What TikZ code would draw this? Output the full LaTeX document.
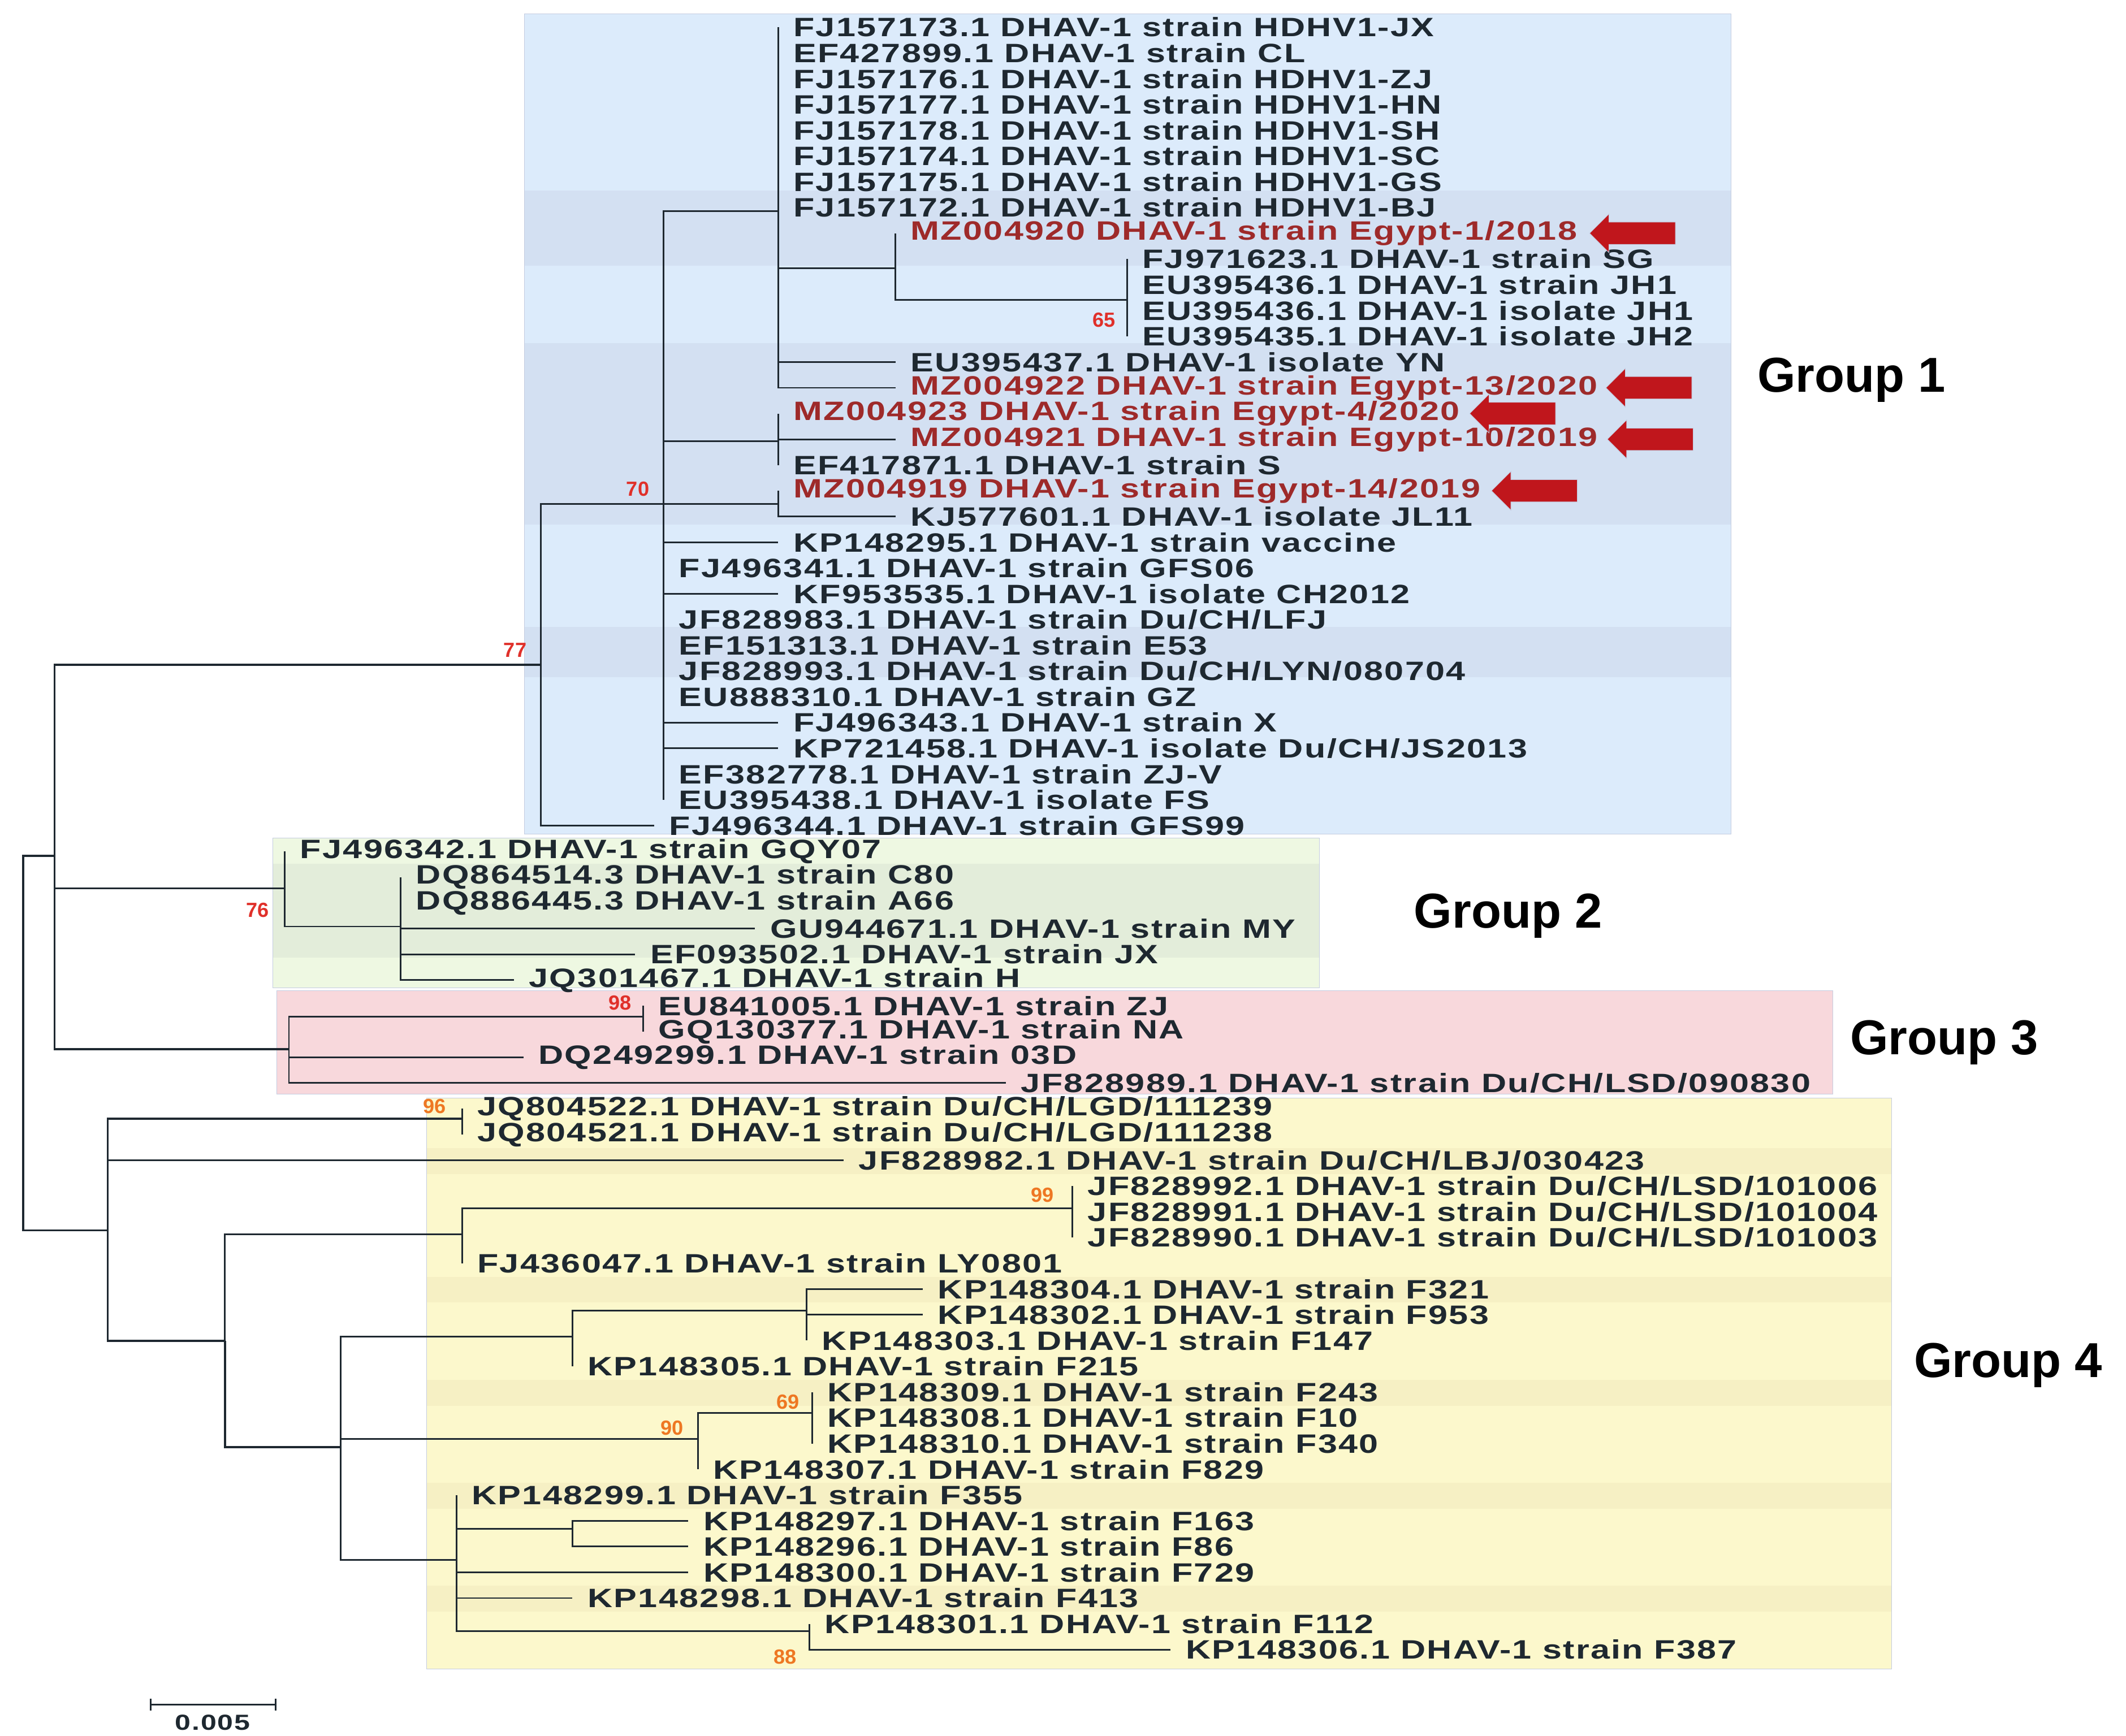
\documentclass[tikz,border=0pt]{standalone}
\usepackage{fontspec}
\setmainfont{Liberation Sans}
\usetikzlibrary{shapes.arrows}
\definecolor{inkdark}{HTML}{1E2830}
\definecolor{egyptred}{HTML}{9E2A2A}
\definecolor{bootred}{HTML}{E0302A}
\definecolor{bootorange}{HTML}{EE7722}
\definecolor{blueband}{HTML}{DCEBFB}
\definecolor{bluedark}{HTML}{D3E0F2}
\definecolor{greenband}{HTML}{EEF8E2}
\definecolor{greendark}{HTML}{E3EDDA}
\definecolor{pinkband}{HTML}{F8D8DC}
\definecolor{yellowband}{HTML}{FCF8CC}
\definecolor{yellowdark}{HTML}{F6F0C4}
\definecolor{boxedge}{HTML}{C4CCE0}
\definecolor{arrowfill}{HTML}{C0161C}
\newfontfamily\treefont{Liberation Sans}[FakeStretch=1.3, LetterSpace=5]
\tikzset{
 leaf/.style={anchor=west, inner xsep=11pt, inner ysep=0pt, text=inkdark,
   font=\treefont\fontsize{19.5}{20}\selectfont\bfseries},
 egypt/.style={leaf, text=egyptred},
 branch/.style={draw=inkdark, line width=1.2pt},
 boot/.style={font=\fontsize{15}{15}\selectfont\bfseries, text=bootred, inner sep=0pt},
 bootg/.style={boot, text=bootorange},
 grouplabel/.style={font=\fontsize{36}{38}\selectfont\bfseries, text=black, anchor=west},
 flag/.style={single arrow, shape border rotate=180, fill=arrowfill, draw=boxedge,
   minimum height=63pt, inner xsep=0pt, inner ysep=8pt, single arrow head extend=6pt},
}
\newcommand{\ry}[1]{20+18.9*#1}
\begin{document}
\begin{tikzpicture}[x=1pt,y=-1pt]
 \useasboundingbox [fill=white] (0,0) rectangle (1560,1274);
 % group boxes
 \fill [blueband] (385,10) rectangle (1270,612);
 \fill [bluedark] (385,140) rectangle (1270,195);
 \fill [bluedark] (385,252) rectangle (1270,385);
 \fill [bluedark] (385,460) rectangle (1270,497);
 \draw [boxedge] (385,10) rectangle (1270,612);
 \fill [greenband] (200,615) rectangle (968,725);
 \fill [greendark] (200,634) rectangle (968,703);
 \draw [boxedge] (200,615) rectangle (968,725);
 \fill [pinkband] (203,727) rectangle (1345,803);
 \draw [boxedge] (203,727) rectangle (1345,803);
 \fill [yellowband] (313,806) rectangle (1388,1225);
 \foreach \b in {44,49,53,57,61}
  \fill [yellowdark] (313,{\ry{\b}-9}) rectangle (1388,{\ry{\b}+10});
 \draw [boxedge] (313,806) rectangle (1388,1225);

 % leaves, group 1
 \node [leaf] (l0) at (571,{\ry{0}}) {FJ157173.1 DHAV-1 strain HDHV1-JX};
 \node [leaf] (l1) at (571,{\ry{1}}) {EF427899.1 DHAV-1 strain CL};
 \node [leaf] (l2) at (571,{\ry{2}}) {FJ157176.1 DHAV-1 strain HDHV1-ZJ};
 \node [leaf] (l3) at (571,{\ry{3}}) {FJ157177.1 DHAV-1 strain HDHV1-HN};
 \node [leaf] (l4) at (571,{\ry{4}}) {FJ157178.1 DHAV-1 strain HDHV1-SH};
 \node [leaf] (l5) at (571,{\ry{5}}) {FJ157174.1 DHAV-1 strain HDHV1-SC};
 \node [leaf] (l6) at (571,{\ry{6}}) {FJ157175.1 DHAV-1 strain HDHV1-GS};
 \node [leaf] (l7) at (571,{\ry{7}}) {FJ157172.1 DHAV-1 strain HDHV1-BJ};
 \node [egypt] (l8) at (657,{\ry{8}}) {MZ004920 DHAV-1 strain Egypt-1/2018};
 \node [leaf] (l9) at (827,{\ry{9}}) {FJ971623.1 DHAV-1 strain SG};
 \node [leaf] (l10) at (827,{\ry{10}}) {EU395436.1 DHAV-1 strain JH1};
 \node [leaf] (l11) at (827,{\ry{11}}) {EU395436.1 DHAV-1 isolate JH1};
 \node [leaf] (l12) at (827,{\ry{12}}) {EU395435.1 DHAV-1 isolate JH2};
 \node [leaf] (l13) at (657,{\ry{13}}) {EU395437.1 DHAV-1 isolate YN};
 \node [egypt] (l14) at (657,{\ry{14}}) {MZ004922 DHAV-1 strain Egypt-13/2020};
 \node [egypt] (l15) at (571,{\ry{15}}) {MZ004923 DHAV-1 strain Egypt-4/2020};
 \node [egypt] (l16) at (657,{\ry{16}}) {MZ004921 DHAV-1 strain Egypt-10/2019};
 \node [leaf] (l17) at (571,{\ry{17}}) {EF417871.1 DHAV-1 strain S};
 \node [egypt] (l18) at (571,{\ry{18}}) {MZ004919 DHAV-1 strain Egypt-14/2019};
 \node [leaf] (l19) at (657,{\ry{19}}) {KJ577601.1 DHAV-1 isolate JL11};
 \node [leaf] (l20) at (571,{\ry{20}}) {KP148295.1 DHAV-1 strain vaccine};
 \node [leaf] (l21) at (487,{\ry{21}}) {FJ496341.1 DHAV-1 strain GFS06};
 \node [leaf] (l22) at (571,{\ry{22}}) {KF953535.1 DHAV-1 isolate CH2012};
 \node [leaf] (l23) at (487,{\ry{23}}) {JF828983.1 DHAV-1 strain Du/CH/LFJ};
 \node [leaf] (l24) at (487,{\ry{24}}) {EF151313.1 DHAV-1 strain E53};
 \node [leaf] (l25) at (487,{\ry{25}}) {JF828993.1 DHAV-1 strain Du/CH/LYN/080704};
 \node [leaf] (l26) at (487,{\ry{26}}) {EU888310.1 DHAV-1 strain GZ};
 \node [leaf] (l27) at (571,{\ry{27}}) {FJ496343.1 DHAV-1 strain X};
 \node [leaf] (l28) at (571,{\ry{28}}) {KP721458.1 DHAV-1 isolate Du/CH/JS2013};
 \node [leaf] (l29) at (487,{\ry{29}}) {EF382778.1 DHAV-1 strain ZJ-V};
 \node [leaf] (l30) at (487,{\ry{30}}) {EU395438.1 DHAV-1 isolate FS};
 \node [leaf] (l31) at (480,{\ry{31}}) {FJ496344.1 DHAV-1 strain GFS99};
 % group 2
 \node [leaf] (l32) at (209,{\ry{32}}) {FJ496342.1 DHAV-1 strain GQY07};
 \node [leaf] (l33) at (294,{\ry{33}}) {DQ864514.3 DHAV-1 strain C80};
 \node [leaf] (l34) at (294,{\ry{34}}) {DQ886445.3 DHAV-1 strain A66};
 \node [leaf] (l35) at (554,{\ry{35}}) {GU944671.1 DHAV-1 strain MY};
 \node [leaf] (l36) at (466,{\ry{36}}) {EF093502.1 DHAV-1 strain JX};
 \node [leaf] (l37) at (377,{\ry{37}}) {JQ301467.1 DHAV-1 strain H};
 % group 3
 \node [leaf] (l38) at (472,{\ry{38}}) {EU841005.1 DHAV-1 strain ZJ};
 \node [leaf] (l39) at (472,{\ry{39}}) {GQ130377.1 DHAV-1 strain NA};
 \node [leaf] (l40) at (384,{\ry{40}}) {DQ249299.1 DHAV-1 strain 03D};
 \node [leaf] (l41) at (738,{\ry{41}}) {JF828989.1 DHAV-1 strain Du/CH/LSD/090830};
 % group 4
 \node [leaf] (l42) at (339,{\ry{42}}) {JQ804522.1 DHAV-1 strain Du/CH/LGD/111239};
 \node [leaf] (l43) at (339,{\ry{43}}) {JQ804521.1 DHAV-1 strain Du/CH/LGD/111238};
 \node [leaf] (l44) at (619,{\ry{44}}) {JF828982.1 DHAV-1 strain Du/CH/LBJ/030423};
 \node [leaf] (l45) at (787,{\ry{45}}) {JF828992.1 DHAV-1 strain Du/CH/LSD/101006};
 \node [leaf] (l46) at (787,{\ry{46}}) {JF828991.1 DHAV-1 strain Du/CH/LSD/101004};
 \node [leaf] (l47) at (787,{\ry{47}}) {JF828990.1 DHAV-1 strain Du/CH/LSD/101003};
 \node [leaf] (l48) at (339,{\ry{48}}) {FJ436047.1 DHAV-1 strain LY0801};
 \node [leaf] (l49) at (677,{\ry{49}}) {KP148304.1 DHAV-1 strain F321};
 \node [leaf] (l50) at (677,{\ry{50}}) {KP148302.1 DHAV-1 strain F953};
 \node [leaf] (l51) at (592,{\ry{51}}) {KP148303.1 DHAV-1 strain F147};
 \node [leaf] (l52) at (420,{\ry{52}}) {KP148305.1 DHAV-1 strain F215};
 \node [leaf] (l53) at (596,{\ry{53}}) {KP148309.1 DHAV-1 strain F243};
 \node [leaf] (l54) at (596,{\ry{54}}) {KP148308.1 DHAV-1 strain F10};
 \node [leaf] (l55) at (596,{\ry{55}}) {KP148310.1 DHAV-1 strain F340};
 \node [leaf] (l56) at (512,{\ry{56}}) {KP148307.1 DHAV-1 strain F829};
 \node [leaf] (l57) at (335,{\ry{57}}) {KP148299.1 DHAV-1 strain F355};
 \node [leaf] (l58) at (505,{\ry{58}}) {KP148297.1 DHAV-1 strain F163};
 \node [leaf] (l59) at (505,{\ry{59}}) {KP148296.1 DHAV-1 strain F86};
 \node [leaf] (l60) at (505,{\ry{60}}) {KP148300.1 DHAV-1 strain F729};
 \node [leaf] (l61) at (420,{\ry{61}}) {KP148298.1 DHAV-1 strain F413};
 \node [leaf] (l62) at (594,{\ry{62}}) {KP148301.1 DHAV-1 strain F112};
 \node [leaf] (l63) at (859,{\ry{63}}) {KP148306.1 DHAV-1 strain F387};

 % internal nodes
 \coordinate (root) at (17,765);
 \coordinate (nR2) at (40,628);   \coordinate (nG) at (397,488);
 \coordinate (nD) at (487,370);   \coordinate (nA) at (571,155);
 \coordinate (nB) at (657,197);   \coordinate (nC) at (827,220);
 \coordinate (nE) at (571,324);   \coordinate (nF) at (571,370);
 \coordinate (nH) at (209,652);   \coordinate (nJ) at (294,680);
 \coordinate (nI) at (212,770);   \coordinate (nK) at (472,746);
 \coordinate (nL) at (79,903);    \coordinate (nM) at (339,821);
 \coordinate (nN) at (165,984);   \coordinate (nO) at (339,906);
 \coordinate (nQ) at (787,887);   \coordinate (nP) at (250,1062);
 \coordinate (nS1) at (420,981);  \coordinate (nS2) at (592,962);
 \coordinate (nT) at (512,1056);  \coordinate (nU) at (596,1037);
 \coordinate (nV) at (335,1145);  \coordinate (nW) at (420,1122);
 \coordinate (nX) at (594,1197);

 % branches
 \draw [branch, line width=1.6pt] (root) |- (nR2);
 \draw [branch, line width=1.6pt] (root) |- (nL);
 \foreach \c in {nG,nH,nI} \draw [branch, line width=1.5pt] (nR2) |- (\c);
 \draw [branch] (nG) |- (nD); \draw [branch] (nG) |- (l31.west);
 \foreach \c in {nA,nE,nF,l20.west,l21.west,l22.west,l23.west,l24.west,l25.west,l26.west,l27.west,l28.west,l29.west,l30.west}
  \draw [branch] (nD) |- (\c);
 \foreach \c in {l0.west,l1.west,l2.west,l3.west,l4.west,l5.west,l6.west,l7.west,nB,l13.west,l14.west}
  \draw [branch] (nA) |- (\c);
 \draw [branch] (nB) |- (l8.west); \draw [branch] (nB) |- (nC);
 \foreach \c in {9,...,12} \draw [branch] (nC) |- (l\c.west);
 \foreach \c in {15,16,17} \draw [branch] (nE) |- (l\c.west);
 \foreach \c in {18,19} \draw [branch] (nF) |- (l\c.west);
 \draw [branch] (nH) |- (l32.west); \draw [branch] (nH) |- (nJ);
 \foreach \c in {33,...,37} \draw [branch] (nJ) |- (l\c.west);
 \draw [branch] (nI) |- (nK);
 \foreach \c in {40,41} \draw [branch] (nI) |- (l\c.west);
 \foreach \c in {38,39} \draw [branch] (nK) |- (l\c.west);
 \draw [branch, line width=1.5pt] (nL) |- (nM); \draw [branch] (nL) |- (l44.west);
 \draw [branch, line width=1.5pt] (nL) |- (nN);
 \foreach \c in {42,43} \draw [branch] (nM) |- (l\c.west);
 \draw [branch] (nN) |- (nO); \draw [branch, line width=1.5pt] (nN) |- (nP);
 \draw [branch] (nO) |- (nQ); \draw [branch] (nO) |- (l48.west);
 \foreach \c in {45,46,47} \draw [branch] (nQ) |- (l\c.west);
 \foreach \c in {nS1,nT,nV} \draw [branch] (nP) |- (\c);
 \draw [branch] (nS1) |- (nS2); \draw [branch] (nS1) |- (l52.west);
 \foreach \c in {49,50,51} \draw [branch] (nS2) |- (l\c.west);
 \draw [branch] (nT) |- (nU); \draw [branch] (nT) |- (l56.west);
 \foreach \c in {53,54,55} \draw [branch] (nU) |- (l\c.west);
 \foreach \c in {l57.west,nW,l60.west,l61.west,nX} \draw [branch] (nV) |- (\c);
 \foreach \c in {58,59} \draw [branch] (nW) |- (l\c.west);
 \foreach \c in {62,63} \draw [branch] (nX) |- (l\c.west);

 % bootstrap values
 \node [boot] (b65) at (810,235) {65};
 \node [boot] (b70) at (468,359) {70};
 \node [boot] (b77) at (378,477) {77};
 \node [boot] (b76) at (189,668) {76};
 \node [boot] (b98) at (455,736) {98};
 \node [bootg] (b96) at (319,812) {96};
 \node [bootg] (b99) at (765,877) {99};
 \node [bootg] (b69) at (578,1029) {69};
 \node [bootg] (b90) at (493,1048) {90};
 \node [bootg] (b88) at (576,1216) {88};

 % arrows at the Egyptian strains
 \node [flag] (f8) at (1202,{\ry{8}}) {};
 \node [flag] (f14) at (1214,{\ry{14}}) {};
 \node [flag] (f15) at (1114,{\ry{15}}) {};
 \node [flag] (f16) at (1215,{\ry{16}}) {};
 \node [flag] (f18) at (1130,{\ry{18}}) {};

 % group labels
 \node [grouplabel] (g1) at (1286,279) {Group 1};
 \node [grouplabel] (g2) at (1034,672) {Group 2};
 \node [grouplabel] (g3) at (1354,765) {Group 3};
 \node [grouplabel] (g4) at (1401,1002) {Group 4};

 % scale bar
 \coordinate (s0) at (110,1251); \coordinate (s1) at (203,1251);
 \draw [branch, |-|] (s0) -- (s1);
 \node [font=\treefont\fontsize{16}{16}\selectfont\bfseries, text=inkdark, below=2pt] (sl) at (156,1253) {0.005};
\end{tikzpicture}
\end{document}
